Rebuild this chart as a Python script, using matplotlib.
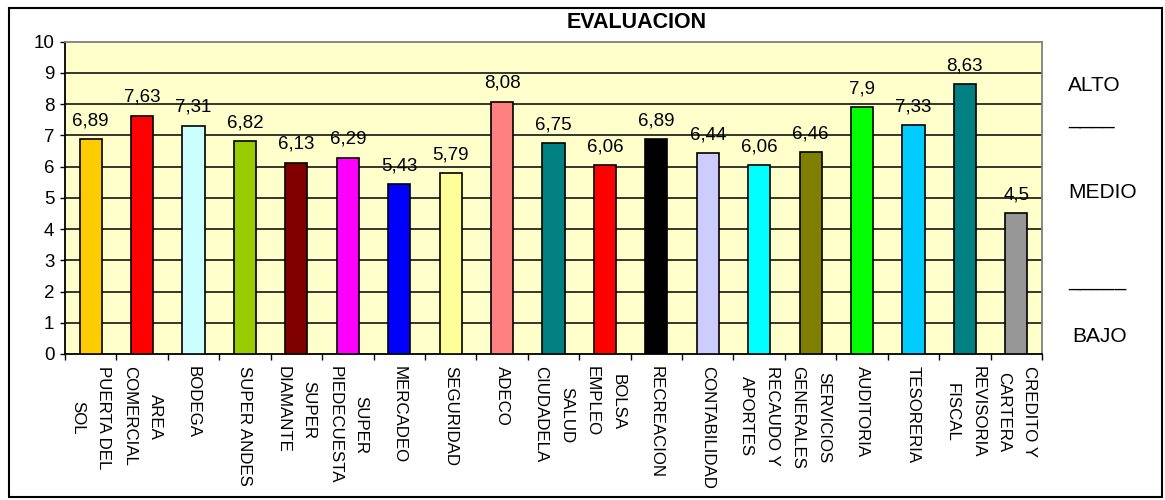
"""
evaluacion.py - Bar chart of the evaluation score per area, with the
ALTO / MEDIO / BAJO bands noted to the right of the plot.
"""

import matplotlib
matplotlib.use('Agg')
import matplotlib.pyplot as plt
from matplotlib.patches import Rectangle

# ============================================================
# DATA
# ============================================================
areas = ['PUERTA DEL\nSOL', 'AREA\nCOMERCIAL', 'BODEGA', 'SUPER ANDES',
         'SUPER\nDIAMANTE', 'SUPER\nPIEDECUESTA', 'MERCADEO', 'SEGURIDAD',
         'ADECO', 'SALUD\nCIUDADELA', 'BOLSA\nEMPLEO', 'RECREACION',
         'CONTABILIDAD', 'RECAUDO Y\nAPORTES', 'SERVICIOS\nGENERALES',
         'AUDITORIA', 'TESORERIA', 'REVISORIA\nFISCAL', 'CREDITO Y\nCARTERA']
scores = [6.89, 7.63, 7.31, 6.82, 6.13, 6.29, 5.43, 5.79, 8.08, 6.75,
          6.06, 6.89, 6.44, 6.06, 6.46, 7.9, 7.33, 8.63, 4.5]
bar_colors = ['#FFCC00', '#FF0000', '#CCFFFF', '#99CC00', '#800000',
              '#FF00FF', '#0000FF', '#FFFF99', '#FF8080', '#008080',
              '#FF0000', '#000000', '#CCCCFF', '#00FFFF', '#808000',
              '#00FF00', '#00CCFF', '#008080', '#969696']
y_ticks = list(range(0, 11))
# ============================================================

plt.rcParams.update({
    'font.family': ['Liberation Sans', 'DejaVu Sans'],
    'font.size':   12,
})

W, H = 1165, 500
fig = plt.figure(figsize=(W / 100, H / 100), dpi=100)


def fx(px):
    return px / W


def fy(py):
    return 1 - py / H


ax = fig.add_axes([fx(65), fy(354), fx(1042) - fx(65), fy(41.7) - fy(354)])
ax.set_facecolor('#FFFFCC')

x = list(range(len(areas)))
ax.bar(x, scores, width=0.43, color=bar_colors, edgecolor='black',
       linewidth=1.2, zorder=3)

for xi, v in zip(x, scores):
    ax.annotate(str(v).replace('.', ','), xy=(xi, v), xytext=(0, 7),
                textcoords='offset points', ha='center', va='bottom',
                fontsize=13.5, color='black', zorder=4)

# horizontal grid, the top edge is left to the grey frame
for t in y_ticks[1:-1]:
    ax.axhline(t, color='black', linewidth=1.1, zorder=1)

ax.set_xlim(-0.5, len(areas) - 0.5)
ax.set_ylim(0, 10)
ax.set_yticks(y_ticks)
ax.tick_params(axis='y', direction='out', length=3.6, width=1.0, pad=4,
               labelsize=13.5)

ax.set_xticks(x)
ax.set_xticklabels(areas, rotation=-90, ha='center', va='top',
                   multialignment='center', linespacing=1.9)
ax.set_xticks([i - 0.5 for i in range(len(areas) + 1)], minor=True)
ax.tick_params(axis='x', which='major', length=0, pad=9, labelsize=12.2)
ax.tick_params(axis='x', which='minor', direction='out', length=4.3, width=1.0)

for side in ('left', 'bottom'):
    ax.spines[side].set_color('black')
    ax.spines[side].set_linewidth(1.3)
for side in ('top', 'right'):
    ax.spines[side].set_color('#808080')
    ax.spines[side].set_linewidth(1.3)

# chart title and level notes
fig.text(fx(637), fy(23), 'EVALUACION', ha='center', va='center',
         fontsize=15.5, fontweight='bold')
fig.text(fx(1068), fy(86), 'ALTO', ha='left', va='center', fontsize=15)
fig.text(fx(1068), fy(124), '____', ha='left', va='baseline', fontsize=15)
fig.text(fx(1068), fy(192), 'MEDIO', ha='left', va='center', fontsize=15)
fig.text(fx(1068), fy(286), '_____', ha='left', va='baseline', fontsize=15)
fig.text(fx(1072), fy(337), 'BAJO', ha='left', va='center', fontsize=15)

# outer chart border
fig.patches.append(Rectangle((fx(9), fy(497)), fx(1162) - fx(9), fy(8) - fy(497),
                             transform=fig.transFigure, fill=False,
                             edgecolor='black', linewidth=1.5))

fig.savefig('out.png', dpi=100)
plt.close(fig)
